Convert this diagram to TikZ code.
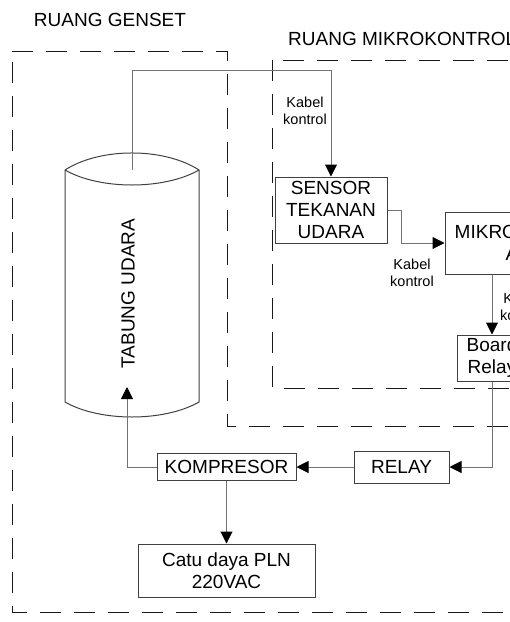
\documentclass[tikz,border=0pt]{standalone}
\usepackage{fontspec}
\setmainfont{Liberation Sans}
\usetikzlibrary{arrows.meta}
\definecolor{boxc}{gray}{0.25}
\definecolor{connc}{gray}{0.45}
\definecolor{regc}{gray}{0.1}
\begin{document}
\begin{tikzpicture}[x=1pt,y=-1pt,
  big/.style={font=\fontsize{19}{22}\selectfont},
  small/.style={font=\fontsize{14.5}{17}\selectfont, align=center, inner sep=0pt},
  box/.style={draw=boxc, line width=1pt, inner sep=0pt, align=center, big},
  conn/.style={draw=connc, line width=1pt},
  arr/.style={conn, -{Triangle[length=12pt,width=12pt,color=black]}},
  region/.style={draw=regc, line width=1pt, dash pattern=on 21pt off 13pt},
]
\useasboundingbox (0,0) rectangle (510,622);
\clip (0,0) rectangle (510,622);

% regions
\draw[region] (12,51) -- (227,51) -- (227,426) -- (640,426) -- (640,612) -- (12,612) -- cycle;
\draw[region] (272,60) rectangle (640,388);
\node[big, anchor=center] (tgenset) at (110,20) {RUANG GENSET};
\node[big, anchor=west, inner sep=0pt] (tmikro) at (288,39) {RUANG MIKROKONTROLER};

% tank
\draw[draw=boxc, line width=1pt] (65,170) .. controls (100,147.3) and (164,147.3) .. (199,170)
  -- (199,402) .. controls (164,422) and (100,422) .. (65,402) -- cycle;
\draw[draw=boxc, line width=1pt] (65,170) .. controls (100,190) and (164,190) .. (199,170);
\node[big, rotate=90] (tabung) at (128,293.5) {TABUNG UDARA};
\coordinate (tabtop) at (132,170);
\coordinate (tabin) at (127,387);

% boxes
\node[box, minimum width=112pt, minimum height=66pt] (sensor) at (331,210) {SENSOR\\TEKANAN\\UDARA};
\node[box, minimum width=200pt, minimum height=62pt] (mikro) at (545,243) {MIKROKONTROLER\\ATMEGA};
\node[box, minimum width=70pt, minimum height=46pt] (board) at (492,358) {Board\\Relay};
\node[box, minimum width=95pt, minimum height=32pt] (relay) at (401.5,467) {RELAY};
\node[box, minimum width=139pt, minimum height=27pt] (kompresor) at (226.5,467) {KOMPRESOR};
\node[box, minimum width=177pt, minimum height=53pt] (catu) at (226.5,570.5) {Catu daya PLN\\220VAC};

% labels
\node[small] (k1) at (305,111) {Kabel\\kontrol};
\node[small] (k2) at (412,273) {Kabel\\kontrol};
\node[small] (k3) at (522,307) {Kabel\\kontrol};

% connectors
\coordinate (c1) at (132,70);
\draw[arr] (tabtop) -- (c1) -| (sensor.north);
\draw[arr] (sensor.east) -- ++(14,0) |- (mikro.west);
\draw[arr] (board.north |- mikro.south) -- (board.north);
\draw[arr] (board.south) |- (relay.east);
\draw[arr] (relay.west) -- (kompresor.east);
\draw[arr] (kompresor.west) -| (tabin);
\draw[arr] (kompresor.south) -- (catu.north);
\end{tikzpicture}
\end{document}
